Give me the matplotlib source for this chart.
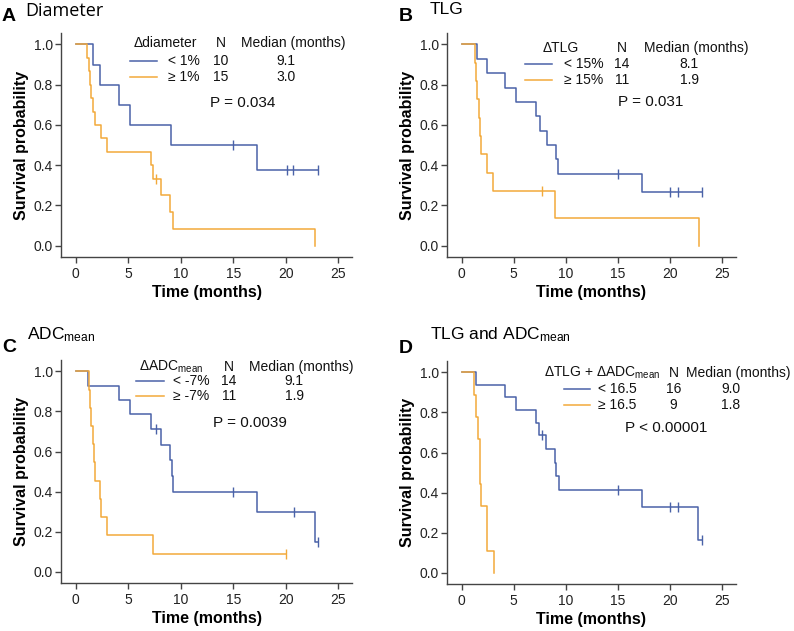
import numpy as np
import matplotlib
matplotlib.use("Agg")
from matplotlib import pyplot as plt

plt.rcParams['font.family'] = ['Liberation Sans', 'DejaVu Sans']
plt.rcParams['mathtext.fontset'] = 'custom'
plt.rcParams['mathtext.rm'] = 'Liberation Sans'
plt.rcParams['mathtext.it'] = 'Liberation Sans:italic'
plt.rcParams['mathtext.bf'] = 'Liberation Sans:bold'

#Colours------------------------------------------------------------------
blue = "#4a62a8"
orange = "#f2a93b"

#Data (event and censor times in months)---------------------------------
# A: diameter
a_low_events = [1.6, 2.35, 4.1, 5.2, 9.1, 17.3]
a_low_cens = [15.0, 20.1, 20.7, 23.1]
a_high_events = [1.12, 1.25, 1.4, 1.5, 1.65, 1.85, 2.4, 3.0, 7.15, 7.4, 8.1, 8.95, 9.25, 22.8]
a_high_cens = [7.65]
# B: TLG
b_low_events = [1.45, 2.45, 4.15, 5.2, 7.13, 7.5, 8.15, 9.0, 9.27, 17.3]
b_low_cens = [15.0, 20.0, 20.7, 23.0]
b_high_events = [1.24, 1.37, 1.5, 1.65, 1.75, 1.85, 2.42, 3.05, 8.95, 22.8]
b_high_cens = [7.7]
# C: ADCmean
c_low_events = [1.2, 4.14, 5.19, 7.17, 8.15, 8.98, 9.14, 9.3, 17.3, 22.8]
c_low_cens = [7.65, 15.0, 20.8, 23.1]
c_high_events = [1.3, 1.4, 1.5, 1.6, 1.75, 1.85, 2.3, 2.4, 3.0, 7.4]
c_high_cens = [20.06]
# D: TLG and ADCmean
d_low_events = [1.4, 4.2, 5.2, 7.1, 7.38, 8.1, 8.97, 9.06, 9.3, 17.3, 22.7]
d_low_cens = [7.7, 15.0, 19.95, 20.7, 23.0]
d_high_events = [1.15, 1.38, 1.57, 1.72, 1.8, 1.88, 2.39, 2.48, 3.08]
d_high_cens = []

#Legend tables-------------------------------------------------------------
a_groups = ["< 1%", "\u2265 1%"]
a_n = ["10", "15"]
a_median = ["9.1", "3.0"]
b_groups = ["< 15%", "\u2265 15%"]
b_n = ["14", "11"]
b_median = ["8.1", "1.9"]
c_groups = ["< -7%", "\u2265 -7%"]
c_n = ["14", "11"]
c_median = ["9.1", "1.9"]
d_groups = ["< 16.5", "\u2265 16.5"]
d_n = ["16", "9"]
d_median = ["9.0", "1.8"]

W, H = 794, 631


def km(events, cens):
    # Kaplan-Meier steps from event / censor times
    pts = sorted([(t, 1) for t in events] + [(t, 0) for t in cens])
    n = len(pts)
    s = 1.0
    xs, ys = [0.0], [1.0]
    cx, cy = [], []
    for t, ev in pts:
        if ev:
            s = s * (n - 1) / n
            xs.append(t)
            ys.append(s)
        else:
            cx.append(t)
            cy.append(s)
        n -= 1
    xs.append(pts[-1][0])
    ys.append(ys[-1])
    return xs, ys, cx, cy


def make_axes(l, r, t, b):
    ax = fig.add_axes([l / W, 1 - b / H, (r - l) / W, (b - t) / H])
    ax.set_xlim(-1.4, 26.3)
    ax.set_ylim(-0.056, 1.057)
    for side in ['top', 'right']:
        ax.spines[side].set_visible(False)
    for side in ['left', 'bottom']:
        ax.spines[side].set_color("#444444")
        ax.spines[side].set_linewidth(1.0)
    ax.set_xticks([0, 5, 10, 15, 20, 25])
    ax.set_yticks([0.0, 0.2, 0.4, 0.6, 0.8, 1.0])
    ax.set_yticklabels(["%.1f" % v for v in [0.0, 0.2, 0.4, 0.6, 0.8, 1.0]])
    ax.tick_params(direction='out', length=4, width=1, color="#444444",
                   labelsize=10, labelcolor="#222222")
    ax.tick_params(axis='y', pad=2)
    ax.tick_params(axis='x', pad=3)
    ax.set_xlabel("Time (months)", fontsize=11.5, fontweight='bold', labelpad=3)
    ax.set_ylabel("Survival probability", fontsize=11.5, fontweight='bold', labelpad=3)
    return ax


def draw_curve(ax, events, cens, color):
    xs, ys, cx, cy = km(events, cens)
    ax.step(xs, ys, where='post', color=color, lw=1.1)
    if cx:
        ax.plot(cx, cy, ls='none', marker='|', ms=7, mew=1.0, color=color)


def legend(ax, header, groups, ns, medians, hx, nx, mx, ys, lx, gx, g_align, px, py, ptext):
    kw = dict(fontsize=10, color="#111111", va='center', clip_on=False)
    ax.text(hx, ys[0], header, ha='center', **kw)
    ax.text(nx, ys[0], "N", ha='center', **kw)
    ax.text(mx, ys[0], "Median (months)", ha='center', **kw)
    for i, col in enumerate([blue, orange]):
        ax.plot(lx, [ys[i + 1], ys[i + 1]], color=col, lw=1.1, clip_on=False)
        ax.text(gx, ys[i + 1], groups[i], ha=g_align, **kw)
        ax.text(nx, ys[i + 1], ns[i], ha='center', **kw)
        ax.text(mx - 0.7, ys[i + 1], medians[i], ha='center', **kw)
    ax.text(px, py, ptext, ha='left', va='center', fontsize=11, color="#111111")


fig = plt.figure(figsize=(W / 100, H / 100), dpi=100)

#Panel A------------------------------------------------------------------
axA = make_axes(61, 352, 33, 257)
draw_curve(axA, a_low_events, a_low_cens, blue)
draw_curve(axA, a_high_events, a_high_cens, orange)
legend(axA, "\u0394diameter", a_groups, a_n, a_median, 8.5, 13.8, 20.7,
       [1.006, 0.917, 0.837], [5.17, 7.76], 11.8, 'right', 12.8, 0.708, "P = 0.034")

#Panel B------------------------------------------------------------------
axB = make_axes(447, 736, 33, 257)
draw_curve(axB, b_low_events, b_low_cens, blue)
draw_curve(axB, b_high_events, b_high_cens, orange)
legend(axB, "\u0394TLG", b_groups, b_n, b_median, 9.47, 15.35, 22.5,
       [0.983, 0.905, 0.822], [6.08, 8.66], 13.6, 'right', 15.0, 0.714, "P = 0.031")

#Panel C------------------------------------------------------------------
axC = make_axes(61, 352, 360, 583)
draw_curve(axC, c_low_events, c_low_cens, blue)
draw_curve(axC, c_high_events, c_high_cens, orange)
legend(axC, "\u0394ADC$_{\\mathrm{mean}}$", c_groups, c_n, c_median, 9.07, 14.6, 21.5,
       [1.023, 0.950, 0.875], [5.73, 8.4], 12.7, 'right', 13.1, 0.745, "P = 0.0039")

#Panel D------------------------------------------------------------------
axD = make_axes(447, 736, 361, 584)
draw_curve(axD, d_low_events, d_low_cens, blue)
draw_curve(axD, d_high_events, d_high_cens, orange)
legend(axD, "\u0394TLG + \u0394ADC$_{\\mathrm{mean}}$", d_groups, d_n, d_median, 13.5, 20.3, 26.5,
       [0.997, 0.917, 0.839], [9.8, 12.3], 13.1, 'left', 15.7, 0.724, "P < 0.00001")

#Panel titles-------------------------------------------------------------
def title(px, py, letter, lx, ly, text, family=None, size=12.5):
    fig.text(px / W, 1 - py / H, letter, fontsize=14, fontweight='bold', va='baseline', ha='left')
    kw = dict(fontsize=size, va='baseline', ha='left')
    if family:
        kw['family'] = family
    fig.text(lx / W, 1 - ly / H, text, **kw)

title(2, 21, "A", 25, 16, "Diameter", family=['Open Sans', 'DejaVu Sans'], size=13)
title(399, 21, "B", 430, 14, "TLG")
title(2, 352, "C", 27, 339, "ADC$_{\\mathrm{mean}}$")
title(399, 353, "D", 430, 339, "TLG and ADC$_{\\mathrm{mean}}$")

plt.savefig("out.png", dpi=100)
